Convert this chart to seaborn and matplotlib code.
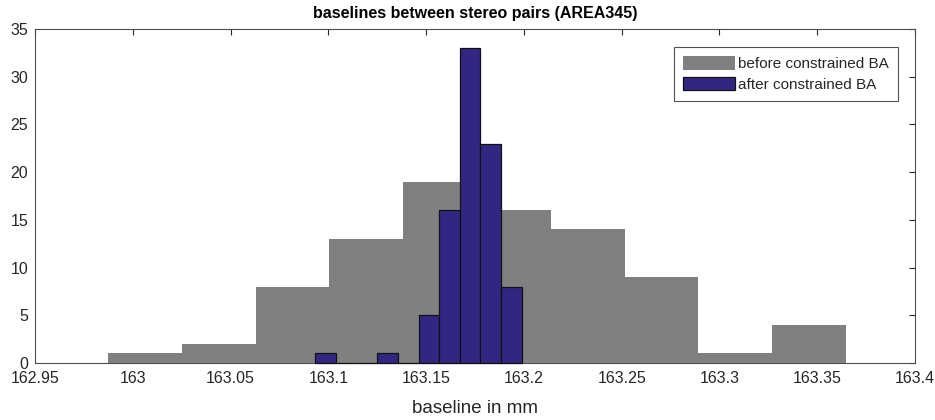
import numpy as np
import pandas as pd
import matplotlib
matplotlib.use('Agg')
import matplotlib.pyplot as plt
import seaborn as sns

# histogram bin centres and counts
before_centers = [163.0063, 163.0441, 163.0818, 163.1195, 163.1573,
                  163.1950, 163.2327, 163.2705, 163.3082, 163.3459]
before_counts = [1, 2, 8, 13, 19, 16, 14, 9, 1, 4]
before_range = (162.9874, 163.3647)

after_centers = [163.0987, 163.1092, 163.1198, 163.1303, 163.1409,
                 163.1514, 163.1620, 163.1725, 163.1831, 163.1936]
after_counts = [1, 0, 0, 1, 0, 5, 16, 33, 23, 8]
after_range = (163.0934, 163.1989)

x_ticks = [162.95, 163, 163.05, 163.1, 163.15, 163.2, 163.25, 163.3, 163.35, 163.4]
x_tick_labels = ['162.95', '163', '163.05', '163.1', '163.15', '163.2',
                 '163.25', '163.3', '163.35', '163.4']
y_ticks = [0, 5, 10, 15, 20, 25, 30, 35]

before = pd.DataFrame({'baseline': before_centers, 'count': before_counts})
after = pd.DataFrame({'baseline': after_centers, 'count': after_counts})

sns.set_style('white')
plt.rcParams['font.family'] = ['Liberation Sans', 'DejaVu Sans']

fig = plt.figure(figsize=(9.35, 4.2), dpi=100)
ax = fig.add_axes([35 / 935, 1 - 363 / 420, 880 / 935, 334 / 420])

sns.histplot(data=before, x='baseline', weights='count', bins=10,
             binrange=before_range, ax=ax, color='#808080', alpha=1,
             edgecolor='none', linewidth=0, label='before constrained BA')
sns.histplot(data=after, x='baseline', weights='count', bins=10,
             binrange=after_range, ax=ax, color='#312783', alpha=1,
             edgecolor='#111111', linewidth=0.9, label='after constrained BA')
# let the empty bins show their edge on the baseline, as in the original
for p in ax.patches:
    p.set_clip_on(False)
    p.set_zorder(3)

ax.set_xlim(162.95, 163.4)
ax.set_ylim(0, 35)
ax.set_xticks(x_ticks)
ax.set_xticklabels(x_tick_labels)
ax.set_yticks(y_ticks)
ax.tick_params(direction='in', top=True, right=True, length=4, width=0.8,
               colors='#262626', labelsize=11.5, labelcolor='#262626')
ax.tick_params(axis='x', pad=6)
ax.tick_params(axis='y', pad=5)
for s in ax.spines.values():
    s.set_color('#4d4d4d')
    s.set_linewidth(0.8)

ax.set_xlabel('baseline in mm', fontsize=13.5, color='#262626', labelpad=10)
ax.set_ylabel('')
ax.set_title('baselines between stereo pairs (AREA345)', fontsize=11.5,
             fontweight='bold', color='black', pad=8)

leg = ax.legend(loc='upper right', bbox_to_anchor=(0.9807, 0.946), frameon=True,
                fancybox=False, edgecolor='#262626', fontsize=11,
                handlelength=3.4, handleheight=1.0, handletextpad=0.2,
                borderpad=0.6, labelspacing=0.35, borderaxespad=0)
leg.get_frame().set_linewidth(0.8)

fig.savefig('out.png', dpi=100)
